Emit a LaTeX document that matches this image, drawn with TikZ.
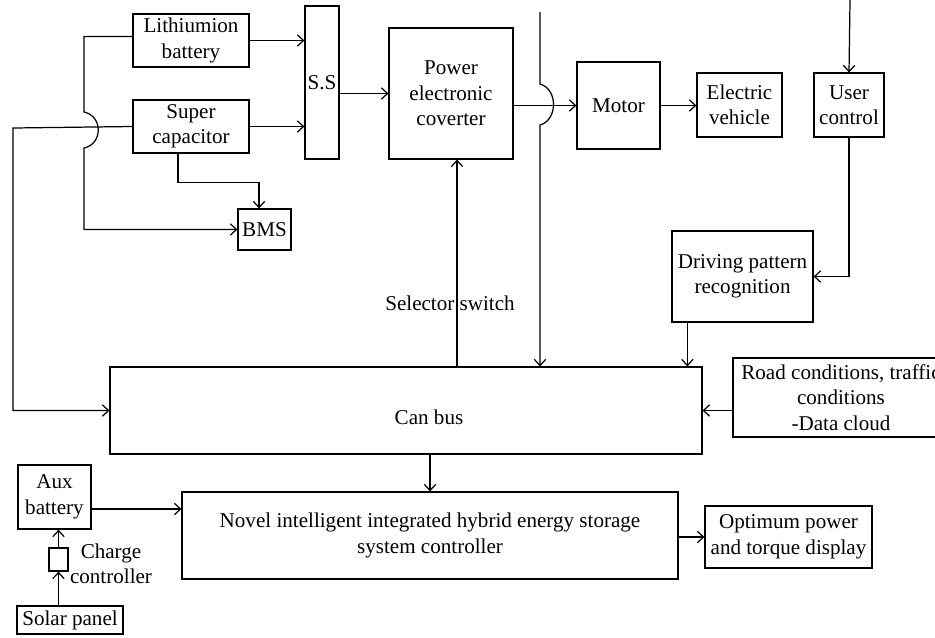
\documentclass[tikz,border=0pt]{standalone}
\usepackage{fontspec}
\setmainfont{Liberation Serif}
\usetikzlibrary{arrows.meta}

\tikzset{blk/.style={draw, align=center, inner sep=0pt}}

\begin{document}
\begin{tikzpicture}[x=0.02cm, y=-0.02cm, line width=0.7pt,
    font=\fontsize{12}{14.5}\selectfont,
    >={Straight Barb[length=3.5pt,width=6.5pt]}]
    \useasboundingbox (0,0) rectangle (935,637);

    % storage side
    \node [blk, minimum width=2.32cm, minimum height=1.06cm] (li) at (191,40.5) {Lithiumion\\battery};
    \node [blk, minimum width=2.32cm, minimum height=1.06cm] (sc) at (191,126.5) {Super\\capacitor};
    \node [blk, minimum width=0.68cm, minimum height=3.06cm] (ss) at (322,82.5) {S.S};
    \node [blk, minimum width=1.06cm, minimum height=0.82cm] (bms) at (264.5,229.5) {BMS};
    \node [blk, minimum width=2.48cm, minimum height=2.62cm] (pec) at (451,93.5) {Power\\electronic\\coverter};
    \node [blk, minimum width=1.66cm, minimum height=1.74cm] (motor) at (618.5,105.5) {Motor};
    \node [blk, minimum width=1.70cm, minimum height=1.28cm] (ev) at (739.5,105) {Electric\\vehicle};
    \node [blk, minimum width=1.40cm, minimum height=1.28cm] (uc) at (849,105) {User\\control};
    \node [blk, minimum width=2.82cm, minimum height=1.82cm] (dpr) at (742.5,276.5) {Driving pattern\\recognition};

    % bus and controller
    \node [blk, minimum width=11.84cm, minimum height=1.74cm] (can) at (406,410.5) {};
    \node (cantxt) at (429,417) {Can bus};
    \node [blk, minimum width=4.32cm, minimum height=1.58cm] (road) at (841,397.5) {Road conditions, traffic\\conditions\\-Data cloud};
    \node [blk, minimum width=9.92cm, minimum height=1.74cm] (ctrl) at (430,535.5) {Novel intelligent integrated hybrid energy storage\\system controller};
    \node [blk, minimum width=3.34cm, minimum height=1.24cm] (opt) at (788.5,537) {Optimum power\\and torque display};
    \node [blk, minimum width=1.46cm, minimum height=1.28cm] (aux) at (54.5,497) {Aux\\battery};
    \node [blk, minimum width=0.38cm, minimum height=0.46cm] (cc) at (58.5,559.5) {};
    \node [align=center] (cclab) at (111,564) {Charge\\controller};
    \node [blk, minimum width=2.12cm, minimum height=0.56cm] (solar) at (70,620) {Solar panel};
    \node (sel) at (450,303) {Selector switch};

    \coordinate (hopLa) at (84,112);
    \coordinate (hopLb) at (84,148);
    \coordinate (lft) at (13,128);
    \coordinate (topA) at (540,12);
    \coordinate (hopRa) at (540,84);
    \coordinate (hopRb) at (540,125);
    \coordinate (topB) at (850,0);
    \path ([xshift=0.12cm]pec.south) coordinate (selT);
    \path ([xshift=0.32cm]dpr.south west) coordinate (dprB);

    \draw [->] (li.east) -- (li.east -| ss.west);
    \draw [->] (sc.east) -- (sc.east -| ss.west);
    \draw [->] (ss.east |- pec.west) -- (pec.west);
    \draw [->] (pec.east |- motor.west) -- (motor.west);
    \draw [->] (motor.east) -- (motor.east -| ev.west);

    \draw [->] ([yshift=0.08cm]li.west) -| (hopLa) .. controls +(19,4) and +(19,-4) .. (hopLb) |- (bms.west);
    \draw [->] ([xshift=-0.26cm]sc.south) -- ++(0,29) -| ([xshift=-0.11cm]bms.north);
    \draw [->] (sc.west) -- (lft) |- (can.west);

    \draw [->] (can.north -| selT) -- (selT);
    \draw [->] (topA) -- (hopRa) .. controls +(18,5) and +(18,-5) .. (hopRb) -- (hopRb |- can.north);
    \draw [->] (topB) -- (uc.north);
    \draw [->] (uc.south) |- (dpr.east);
    \draw [->] (dprB) -- (dprB |- can.north);
    \draw [->] (road.west |- can.east) -- (can.east);

    \draw [->] (ctrl.north |- can.south) -- (ctrl.north);
    \draw [->] (ctrl.east |- opt.west) -- (opt.west);
    \draw [->] ([yshift=-0.24cm]aux.east) -- ([yshift=-0.24cm]aux.east -| ctrl.west);
    \draw [->] (cc.north) -- (cc.north |- aux.south);
    \draw [->] (cc.south |- solar.north) -- (cc.south);
\end{tikzpicture}
\end{document}
